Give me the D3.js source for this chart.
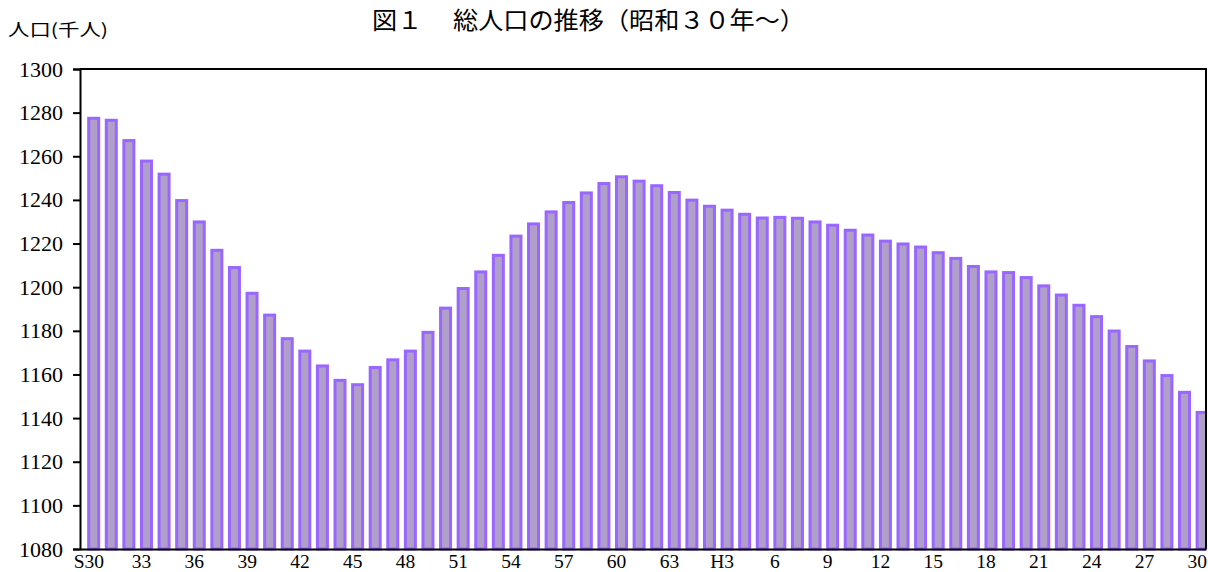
<!DOCTYPE html>
<html lang="ja">
<head>
<meta charset="utf-8">
<script src="https://cdn.jsdelivr.net/npm/d3@7"></script>
<style>
  html, body { margin: 0; padding: 0; background: #fff; }
  svg { display: block; }
</style>
</head>
<body>
<div id="chart"></div>
<script>
/* ===================================
   総人口の推移 bar chart
   =================================== */

// 年 (昭和30年〜平成30年)
const categories = [
    'S30', 'S31', 'S32', 'S33', 'S34', 'S35', 'S36', 'S37', 'S38', 'S39',
    'S40', 'S41', 'S42', 'S43', 'S44', 'S45', 'S46', 'S47', 'S48', 'S49',
    'S50', 'S51', 'S52', 'S53', 'S54', 'S55', 'S56', 'S57', 'S58', 'S59',
    'S60', 'S61', 'S62', 'S63',
    'H1', 'H2', 'H3', 'H4', 'H5', 'H6', 'H7', 'H8', 'H9', 'H10',
    'H11', 'H12', 'H13', 'H14', 'H15', 'H16', 'H17', 'H18', 'H19', 'H20',
    'H21', 'H22', 'H23', 'H24', 'H25', 'H26', 'H27', 'H28', 'H29', 'H30'
];

// 総人口 (千人)
const population = [
    1277.4, 1276.5, 1267.2, 1257.8, 1251.8, 1239.7, 1229.9, 1216.9, 1209.0, 1197.2,
    1187.2, 1176.4, 1170.7, 1163.9, 1157.3, 1155.3, 1163.2, 1166.7, 1170.7, 1179.3,
    1190.4, 1199.4, 1207.0, 1214.6, 1223.4, 1229.0, 1234.5, 1238.8, 1243.2, 1247.5,
    1250.6, 1248.6, 1246.5, 1243.4,
    1239.9, 1237.1, 1235.3, 1233.4, 1231.7, 1232.0, 1231.6, 1229.9, 1228.4, 1226.1,
    1223.9, 1221.1, 1219.8, 1218.4, 1215.8, 1213.2, 1209.5, 1207.0, 1206.7, 1204.4,
    1200.6, 1196.4, 1191.7, 1186.5, 1179.9, 1172.8, 1166.2, 1159.5, 1151.8, 1142.6
];

// x軸ラベル (3年おき)
const xTickCats   = ['S30', 'S33', 'S36', 'S39', 'S42', 'S45', 'S48', 'S51', 'S54', 'S57',
                     'S60', 'S63', 'H3', 'H6', 'H9', 'H12', 'H15', 'H18', 'H21', 'H24', 'H27', 'H30'];
const xTickLabels = ['S30', '33', '36', '39', '42', '45', '48', '51', '54', '57',
                     '60', '63', 'H3', '6', '9', '12', '15', '18', '21', '24', '27', '30'];

const yTicks = [1080, 1100, 1120, 1140, 1160, 1180, 1200, 1220, 1240, 1260, 1280, 1300];

const chartTitle = '図１　 総人口の推移（昭和３０年～）';
const yTitle = '人口(千人)';

const data = categories.map((c, i) => ({ cat: c, value: population[i] }));

function renderBarChart() {
    const width = 1208;
    const height = 572;
    const plot = { left: 80, right: 1206, top: 69, bottom: 549 };
    const barShift = 4.9;   // Excel draws the bars slightly right of the category centre
    const barWidth = 10;

    const svg = d3.select('#chart')
        .append('svg')
        .attr('width', width)
        .attr('height', height)
        .attr('viewBox', `0 0 ${width} ${height}`);

    const x = d3.scaleBand()
        .domain(categories)
        .range([plot.left, plot.right])
        .padding(0);

    const y = d3.scaleLinear()
        .domain([1080, 1300])
        .range([plot.bottom, plot.top]);

    svg.append('clipPath')
        .attr('id', 'plot-clip')
        .append('rect')
        .attr('x', plot.left)
        .attr('y', plot.top)
        .attr('width', plot.right - plot.left)
        .attr('height', plot.bottom - plot.top + 4);

    // Bars
    svg.append('g')
        .attr('clip-path', 'url(#plot-clip)')
        .selectAll('rect')
        .data(data)
        .enter()
        .append('rect')
        .attr('x', d => x(d.cat) + x.bandwidth() / 2 + barShift - barWidth / 2)
        .attr('y', d => y(d.value))
        .attr('width', barWidth)
        .attr('height', d => y(1080) - y(d.value))
        .attr('fill', '#b09fc8')
        .attr('stroke', '#9966ff')
        .attr('stroke-width', 3);

    // Frame (top, right)
    svg.append('path')
        .attr('d', `M${plot.left},${plot.top}H${plot.right}V${plot.bottom}`)
        .attr('fill', 'none')
        .attr('stroke', '#000')
        .attr('stroke-width', 2);

    // Y axis
    const yAxis = svg.append('g')
        .attr('transform', `translate(${plot.left},0)`)
        .call(d3.axisLeft(y).tickValues(yTicks).tickSize(7).tickPadding(10).tickFormat(d3.format('d')));

    yAxis.select('.domain').attr('stroke', '#000').attr('stroke-width', 2);
    yAxis.selectAll('.tick line').attr('stroke', '#000').attr('stroke-width', 2);
    yAxis.selectAll('.tick text')
        .attr('fill', '#000')
        .style('font-size', '22px')
        .style('font-family', '"Liberation Serif", serif');

    // X axis
    const xAxis = svg.append('g')
        .attr('transform', `translate(0,${plot.bottom})`)
        .call(d3.axisBottom(x).tickValues(xTickCats).tickSize(0)
            .tickFormat(d => xTickLabels[xTickCats.indexOf(d)]));

    xAxis.select('.domain').attr('stroke', '#000').attr('stroke-width', 2);
    xAxis.selectAll('.tick text')
        .attr('y', 19)
        .attr('dy', 0)
        .attr('fill', '#000')
        .style('font-size', '19.5px')
        .style('font-family', '"Liberation Serif", serif');

    // Titles
    svg.append('text')
        .attr('x', 372)
        .attr('y', 29)
        .attr('fill', '#000')
        .attr('textLength', 433)
        .attr('lengthAdjust', 'spacingAndGlyphs')
        .style('font-size', '24px')
        .style('font-family', '"Noto Sans CJK JP", sans-serif')
        .text(chartTitle);

    svg.append('text')
        .attr('x', 8)
        .attr('y', 36)
        .attr('fill', '#000')
        .attr('textLength', 100)
        .attr('lengthAdjust', 'spacingAndGlyphs')
        .style('font-size', '17px')
        .style('font-family', '"Noto Sans CJK JP", sans-serif')
        .text(yTitle);
}

renderBarChart();
</script>
</body>
</html>
